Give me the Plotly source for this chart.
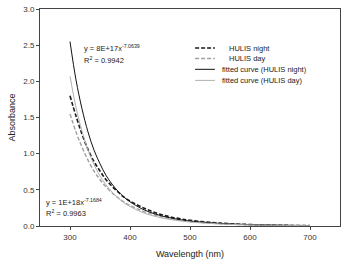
import plotly.graph_objects as go

wavelength = [300, 310, 320, 330, 340, 350, 360, 370, 380, 390, 400,
              420, 440, 460, 480, 500, 550, 600, 650, 700]
hulis_night = [1.80, 1.52, 1.27, 1.06, 0.89, 0.76, 0.64, 0.55, 0.47, 0.40, 0.345,
               0.26, 0.19, 0.14, 0.105, 0.078, 0.040, 0.020, 0.010, 0.005]
hulis_day = [1.55, 1.30, 1.09, 0.91, 0.76, 0.64, 0.54, 0.46, 0.39, 0.33, 0.285,
             0.21, 0.155, 0.115, 0.085, 0.063, 0.032, 0.016, 0.008, 0.004]
fit_night = [2.55, 2.02, 1.62, 1.30, 1.05, 0.86, 0.70, 0.58, 0.48, 0.40, 0.335,
             0.237, 0.171, 0.125, 0.092, 0.069, 0.035, 0.019, 0.011, 0.006]
fit_day = [2.07, 1.64, 1.31, 1.05, 0.85, 0.69, 0.57, 0.47, 0.39, 0.32, 0.27,
           0.19, 0.137, 0.10, 0.074, 0.055, 0.028, 0.015, 0.009, 0.005]

series_names = ["HULIS night", "HULIS day", "fitted curve (HULIS night)", "fitted curve (HULIS day)"]
x_ticks = [300, 400, 500, 600, 700]
y_ticks = [0.0, 0.5, 1.0, 1.5, 2.0, 2.5, 3.0]

FONT = "Liberation Sans, Arial, sans-serif"
styles = [
    dict(color="#1a1a1a", width=1.6, dash="4px,2px"),
    dict(color="#a0a0a0", width=1.4, dash="4px,2px"),
    dict(color="#111111", width=1.0, dash="solid"),
    dict(color="#b0b0b0", width=1.0, dash="solid"),
]
series = [hulis_night, hulis_day, fit_night, fit_day]

fig = go.Figure()
for name, ys, st in zip(series_names, series, styles):
    fig.add_trace(go.Scatter(x=wavelength, y=ys, mode="lines", name=name, showlegend=False,
                             line=dict(shape="spline", **st)))

# custom compact legend (plotly's legend rows are too tall at this size)
legend_rows_y = [0.820, 0.772, 0.722, 0.671]
legend_text_x = [0.623, 0.623, 0.600, 0.600]
for name, st, ly, tx in zip(series_names, styles, legend_rows_y, legend_text_x):
    fig.add_shape(type="line", xref="paper", yref="paper", x0=0.517, x1=0.583, y0=ly, y1=ly,
                  line=dict(color=st["color"], width=st["width"], dash=st["dash"]))
    fig.add_annotation(x=tx, y=ly, xref="paper", yref="paper", xanchor="left", yanchor="middle",
                       text=name, showarrow=False, font=dict(family=FONT, size=7.5, color="#222"))

ann_font = dict(family=FONT, size=7.5, color="#222")
fig.add_annotation(x=320, y=2.46, xref="x", yref="y", xanchor="left", yanchor="middle",
                   text="y = 8E+17x<sup>-7.0639</sup>", showarrow=False, font=ann_font)
fig.add_annotation(x=320, y=2.30, xref="x", yref="y", xanchor="left", yanchor="middle",
                   text="R<sup>2</sup> = 0.9942", showarrow=False, font=ann_font)
fig.add_annotation(x=256, y=0.33, xref="x", yref="y", xanchor="left", yanchor="middle",
                   text="y = 1E+18x<sup>-7.1684</sup>", showarrow=False, font=ann_font)
fig.add_annotation(x=256, y=0.175, xref="x", yref="y", xanchor="left", yanchor="middle",
                   text="R<sup>2</sup> = 0.9963", showarrow=False, font=ann_font)

axis_common = dict(showline=True, linecolor="#444", linewidth=1, mirror=True,
                   ticks="outside", ticklen=3, tickcolor="#444", showgrid=False,
                   zeroline=False, tickfont=dict(family=FONT, size=8, color="#333"))

fig.update_layout(
    width=342, height=261,
    margin=dict(l=40, r=2, t=9, b=35),
    paper_bgcolor="white", plot_bgcolor="white",
    showlegend=False,
    xaxis=dict(range=[250, 750], tickvals=x_ticks,
               title=dict(text="Wavelength (nm)", font=dict(family=FONT, size=9, color="#222"), standoff=10),
               **axis_common),
    yaxis=dict(range=[0, 3.0], tickvals=y_ticks, tickformat=".1f",
               title=dict(text="Absorbance", font=dict(family=FONT, size=9, color="#222"), standoff=6),
               **axis_common),
)

fig.write_html("out.html")
